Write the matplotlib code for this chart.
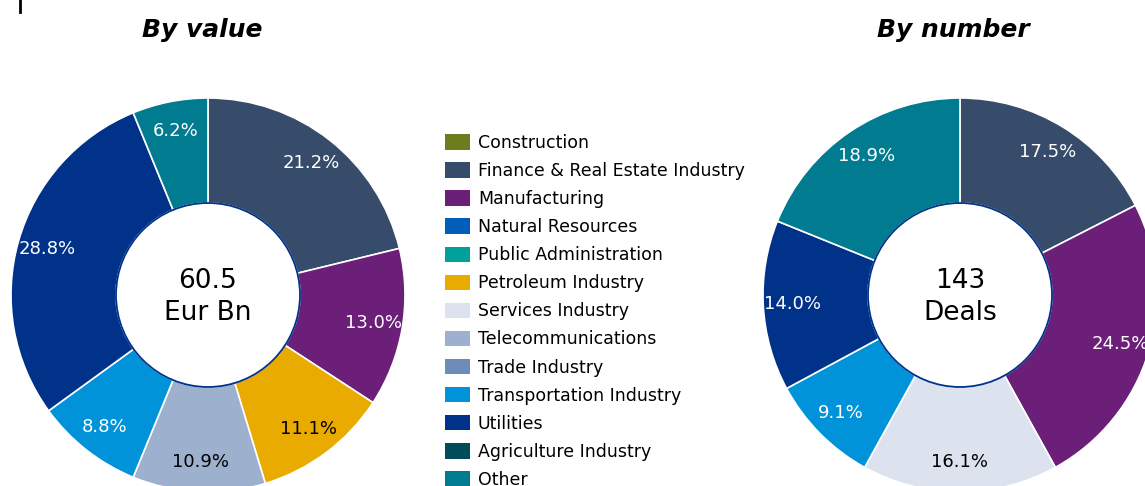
import matplotlib.pyplot as plt
from matplotlib.patches import Patch, Circle
from matplotlib.lines import Line2D

# sector palette, in legend order
categories = [
    "Construction", "Finance & Real Estate Industry", "Manufacturing",
    "Natural Resources", "Public Administration", "Petroleum Industry",
    "Services Industry", "Telecommunications", "Trade Industry",
    "Transportation Industry", "Utilities", "Agriculture Industry", "Other",
]
colors = [
    "#6b7d1c", "#374c6b", "#6b1f78", "#005eb8", "#00a19a", "#eaab00",
    "#dde3ee", "#9db0ce", "#6f8cb8", "#0093d9", "#00328a", "#004d59",
    "#007b8f",
]
dark_text = ["Petroleum Industry", "Services Industry", "Telecommunications"]

# share of deal value (%), clockwise from 12 o'clock
value_sectors = ["Finance & Real Estate Industry", "Manufacturing",
                 "Petroleum Industry", "Telecommunications",
                 "Transportation Industry", "Utilities", "Other"]
value_shares = [21.2, 13.0, 11.1, 10.9, 8.8, 28.8, 6.2]

# share of deal count (%)
number_sectors = ["Finance & Real Estate Industry", "Manufacturing",
                  "Services Industry", "Transportation Industry",
                  "Utilities", "Other"]
number_shares = [17.5, 24.5, 16.1, 9.1, 14.0, 18.9]

total_value = "60.5\nEur Bn"
total_deals = "143\nDeals"

W, H = 1145, 486
color_of = dict(zip(categories, colors))

fig = plt.figure(figsize=(W / 100, H / 100), dpi=100)


def donut(cx, cy, r, sectors, shares, centre, title, tx):
    ax = fig.add_axes([(cx - r) / W, (H - cy - r) / H, 2 * r / W, 2 * r / H])
    hole = 0.467
    wedges, _, pcts = ax.pie(
        shares, colors=[color_of[s] for s in sectors], startangle=90,
        counterclock=False, radius=1,
        wedgeprops=dict(width=1 - hole, edgecolor="white", linewidth=1.2),
        autopct=lambda p: "", pctdistance=0.85,
    )
    for t, s, v in zip(pcts, sectors, shares):
        t.set_text(f"{v:.1f}%")
        t.set_fontsize(13)
        t.set_color("black" if s in dark_text else "white")
    ax.add_patch(Circle((0, 0), hole, facecolor="white",
                        edgecolor="#00328a", linewidth=1.3, zorder=3))
    ax.text(0, -0.01, centre, ha="center", va="center", fontsize=19,
            linespacing=1.3, zorder=4)
    ax.set_xlim(-1, 1)
    ax.set_ylim(-1, 1)
    ax.set_aspect("equal")
    ax.axis("off")
    fig.text(tx / W, 1 - 30 / H, title, ha="center", va="center",
             fontsize=18, fontweight="bold", fontstyle="italic")


donut(208, 295, 197, value_sectors, value_shares, total_value, "By value", 202)
donut(960, 295, 197, number_sectors, number_shares, total_deals, "By number", 953)

handles = [Patch(facecolor=c, edgecolor="none") for c in colors]
fig.legend(handles, categories, loc="upper left",
           bbox_to_anchor=(438 / W, 1 - 127 / H), frameon=False,
           fontsize=12.5, handlelength=1.45, handleheight=1.0,
           handletextpad=0.45, labelspacing=0.58, borderaxespad=0)

fig.add_artist(Line2D([20 / W, 20 / W], [1, 1 - 12 / H], color="black",
                      linewidth=2))

fig.savefig("out.png", dpi=100)
